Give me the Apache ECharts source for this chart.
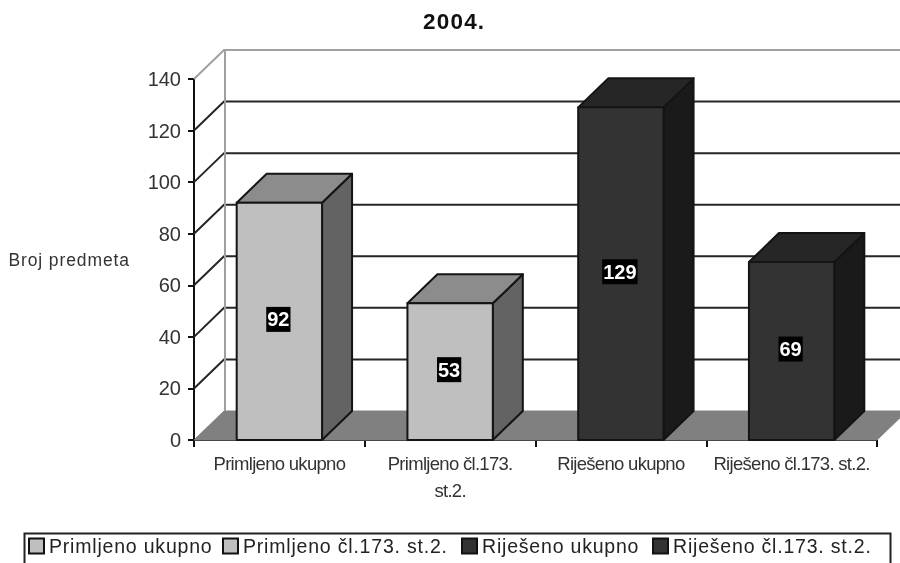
<!DOCTYPE html>
<html>
<head>
<meta charset="utf-8">
<style>
html,body{margin:0;padding:0;background:#fff}
#chart{width:900px;height:563px;overflow:hidden;filter:blur(0.45px)}
#chart text[style*="19.5px"]{letter-spacing:.8px}
#chart text[style*="17.5px"]{letter-spacing:.9px}
#chart text[style*="18.5px"]{letter-spacing:-.7px}
#chart text[style*="22.5px"]{letter-spacing:1.2px}
</style>
<script src="https://cdn.jsdelivr.net/npm/echarts@6/dist/echarts.min.js"></script>
</head>
<body>
<div id="chart"></div>
<script>
const titleText = '2004.';
const yAxisName = 'Broj predmeta';
const categories = ['Primljeno ukupno', 'Primljeno čl.173.\nst.2.', 'Riješeno ukupno', 'Riješeno čl.173. st.2.'];
const seriesNames = ['Primljeno ukupno', 'Primljeno čl.173. st.2.', 'Riješeno ukupno', 'Riješeno čl.173. st.2.'];
const values = [92, 53, 129, 69];
const yTicks = [0, 20, 40, 60, 80, 100, 120, 140];

const legendLefts = [28, 222, 461, 652];
const palettes = [
  {face:'#bfbfbf', top:'#8c8c8c', side:'#636363'},
  {face:'#bfbfbf', top:'#8c8c8c', side:'#636363'},
  {face:'#333333', top:'#262626', side:'#1a1a1a'},
  {face:'#333333', top:'#262626', side:'#1a1a1a'}
];
const DX = 30, DY = -29;
const EDGE = '#141414';
const FONT = '"Liberation Sans", Arial, sans-serif';

function renderWall(params, api) {
  const v = api.value(0);
  const cs = params.coordSys;
  const y = api.coord([0, v])[1];
  const x0 = cs.x, x1 = cs.x + cs.width;
  const color = v === 140 ? '#a0a0a0' : '#262626';
  const children = [];
  if (v === 0) {
    children.push({type:'polygon', shape:{points:[[x0,y],[x0+DX,y+DY],[x1+DX,y+DY],[x1,y]]},
      style:{fill:'#808080', stroke:'#808080', lineWidth:1}});
  } else {
    children.push({type:'polyline', shape:{points:[[x0,y],[x0+DX,y+DY],[x1+DX,y+DY]]},
      style:{fill:'none', stroke:color, lineWidth:2}});
  }
  if (v === 140) {
    const y0 = api.coord([0, 0])[1];
    children.push({type:'line', shape:{x1:x0+DX+1,y1:y+DY,x2:x0+DX+1,y2:y0+DY},
      style:{stroke:'#a0a0a0', lineWidth:2}});
  }
  return {type:'group', children};
}

function barRenderer(pal) {
  return function (params, api) {
    const c = api.value(0), v = api.value(1);
    const band = api.size([1, 0])[0];
    const w = band * 0.5;
    const top = api.coord([c, v]);
    const base = api.coord([c, 0]);
    const l = top[0] - w / 2, r = top[0] + w / 2;
    const st = fill => ({fill, stroke:EDGE, lineWidth:2, lineJoin:'round'});
    return {type:'group', children:[
      {type:'polygon', shape:{points:[[r,base[1]],[r+DX,base[1]+DY],[r+DX,top[1]+DY],[r,top[1]]]}, style:st(pal.side)},
      {type:'polygon', shape:{points:[[l,top[1]],[l+DX,top[1]+DY],[r+DX,top[1]+DY],[r,top[1]]]}, style:st(pal.top)},
      {type:'rect', shape:{x:l,y:top[1],width:w,height:base[1]-top[1]}, style:st(pal.face)},
      {type:'text', x:top[0]-1, y:(top[1]+base[1])/2-2, style:{
        text:String(v), fill:'#fff', font:'bold 20px ' + FONT,
        align:'center', verticalAlign:'middle', backgroundColor:'#000', padding:[3,1,2,1]}}
    ]};
  };
}

const wallSeries = {
  type:'custom', name:'wall', silent:true, clip:false, z:1,
  renderItem:renderWall, data:yTicks.map(v => [v]), encode:{}
};
const barSeries = seriesNames.map((n, i) => ({
  type:'custom', name:n, clip:false, z:2, silent:true,
  itemStyle:{color:palettes[i].face, borderColor:'#111', borderWidth:1.5},
  renderItem:barRenderer(palettes[i]),
  encode:{x:0, y:1},
  data:[[i, values[i]]]
}));

const chart = echarts.init(document.getElementById('chart'), null, {renderer:'svg'});
chart.setOption({
  animation:false,
  backgroundColor:'#fff',
  textStyle:{fontFamily:FONT},
  title:{text:titleText, left:423, top:10, padding:0,
    textStyle:{fontSize:22.5, fontWeight:'bold', color:'#111', fontFamily:FONT}},
  grid:{left:194, right:23, top:79, bottom:123},
  xAxis:{type:'category', data:categories,
    axisLine:{lineStyle:{color:'#111', width:2}},
    axisTick:{show:true, length:7, alignWithLabel:false, lineStyle:{color:'#111', width:2}},
    axisLabel:{interval:0, fontSize:18.5, color:'#333', margin:10, lineHeight:27},
    splitLine:{show:false}},
  yAxis:{type:'value', min:0, max:140, interval:20,
    name:yAxisName, nameLocation:'middle', nameRotate:0, nameGap:64,
    nameTextStyle:{fontSize:17.5, color:'#333', align:'right', padding:[0,0,9,0]},
    axisLine:{show:true, lineStyle:{color:'#111', width:2}},
    axisTick:{show:true, length:6, lineStyle:{color:'#111', width:2}},
    axisLabel:{fontSize:20, color:'#333', margin:13},
    splitLine:{show:false}},
  legend:seriesNames.map((n, i) => ({
    data:[{name:n, icon:'rect'}], left:legendLefts[i], top:536, padding:0,
    itemWidth:15, itemHeight:15, selectedMode:false,
    textStyle:{fontSize:19.5, color:'#222'}
  })),
  graphic:[{type:'rect', left:22, top:531, shape:{width:866, height:60},
    style:{fill:'none', stroke:'#222', lineWidth:2}, silent:true}],
  series:[wallSeries].concat(barSeries)
});
</script>
</body>
</html>
